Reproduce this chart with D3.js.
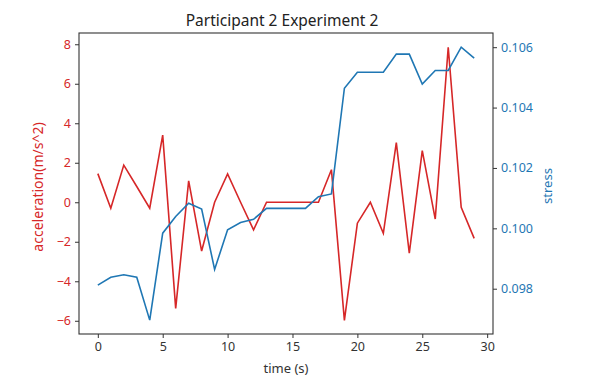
<!DOCTYPE html>
<html>
<head>
<meta charset="utf-8">
<script src="https://cdn.jsdelivr.net/npm/d3@7"></script>
<style>
  body { margin: 0; background: #fff; }
  text { font-family: "Noto Sans", "Open Sans", sans-serif; }
</style>
</head>
<body>
<div id="chart"></div>
<script>
// time steps (s)
const time = d3.range(0, 30);

// acceleration (m/s^2), red series, left axis
const acceleration = [1.45, -0.3, 1.88, 0.8, -0.3, 3.4, -5.37, 1.08, -2.47, 0.0,
  1.43, 0.0, -1.4, 0.0, 0.0, 0.0, 0.0, 0.0, 1.65, -5.98,
  -1.06, 0.0, -1.57, 3.02, -2.58, 2.61, -0.85, 7.85, -0.25, -1.83];

// stress, blue series, right axis
const stress = [0.09812, 0.09838, 0.09846, 0.09838, 0.09696, 0.09984, 0.10039, 0.10083, 0.10064, 0.09864,
  0.09995, 0.10019, 0.1003, 0.10066, 0.10066, 0.10066, 0.10066, 0.10105, 0.10114, 0.10464,
  0.10517, 0.10517, 0.10517, 0.10577, 0.10577, 0.10478, 0.10523, 0.10523, 0.1060, 0.10564];

const xTicks = [0, 5, 10, 15, 20, 25, 30];
const accTicks = [-6, -4, -2, 0, 2, 4, 6, 8];
const stressTicks = [0.098, 0.100, 0.102, 0.104, 0.106];

const red = "#d62728", blue = "#1f77b4";

const W = 592, H = 390;
const pLeft = 79, pRight = 493, pTop = 33, pBottom = 334;

const svg = d3.select("#chart").append("svg")
  .attr("width", W).attr("height", H);

const x = d3.scaleLinear().domain([-1.45, 30.45]).range([pLeft, pRight]);
const yAcc = d3.scaleLinear().domain([-6.67, 8.57]).range([pBottom, pTop]);
const yStress = d3.scaleLinear().domain([0.0965, 0.10647]).range([pBottom, pTop]);

// lines
const accLine = d3.line().x((d, i) => x(time[i])).y(d => yAcc(d));
const stressLine = d3.line().x((d, i) => x(time[i])).y(d => yStress(d));

svg.append("path").datum(acceleration)
  .attr("d", accLine).attr("fill", "none")
  .attr("stroke", red).attr("stroke-width", 1.6);

svg.append("path").datum(stress)
  .attr("d", stressLine).attr("fill", "none")
  .attr("stroke", blue).attr("stroke-width", 1.6);

// frame
svg.append("rect")
  .attr("x", pLeft).attr("y", pTop)
  .attr("width", pRight - pLeft).attr("height", pBottom - pTop)
  .attr("fill", "none").attr("stroke", "#333").attr("stroke-width", 1.1);

function styleAxis(g, color) {
  g.select(".domain").remove();
  g.selectAll(".tick line").attr("stroke", "#333").attr("stroke-width", 1);
  g.selectAll(".tick text").attr("fill", color).attr("font-size", 12.5)
    .attr("font-family", '"Noto Sans", "Open Sans", sans-serif');
}

svg.append("g").attr("transform", `translate(0,${pBottom})`)
  .call(d3.axisBottom(x).tickValues(xTicks).tickSize(4).tickPadding(4))
  .call(g => styleAxis(g, "#333"));

svg.append("g").attr("transform", `translate(${pLeft},0)`)
  .call(d3.axisLeft(yAcc).tickValues(accTicks).tickSize(4).tickPadding(4)
    .tickFormat(d => d < 0 ? "\u2212" + Math.abs(d) : d))
  .call(g => styleAxis(g, red));

svg.append("g").attr("transform", `translate(${pRight},0)`)
  .call(d3.axisRight(yStress).tickValues(stressTicks).tickSize(4).tickPadding(4)
    .tickFormat(d3.format(".3f")))
  .call(g => styleAxis(g, blue));

// titles
svg.append("text")
  .attr("x", 282).attr("y", 26)
  .attr("text-anchor", "middle").attr("font-size", 15.5).attr("fill", "#222")
  .text("Participant 2 Experiment 2");

svg.append("text")
  .attr("x", (pLeft + pRight) / 2).attr("y", 373)
  .attr("text-anchor", "middle").attr("font-size", 13).attr("fill", "#333")
  .text("time (s)");

svg.append("text")
  .attr("transform", `translate(43,187) rotate(-90)`)
  .attr("text-anchor", "middle").attr("font-size", 14).attr("fill", red)
  .text("acceleration(m/s^2)");

svg.append("text")
  .attr("transform", `translate(552,186) rotate(-90)`)
  .attr("text-anchor", "middle").attr("font-size", 13).attr("fill", blue)
  .text("stress");
</script>
</body>
</html>
